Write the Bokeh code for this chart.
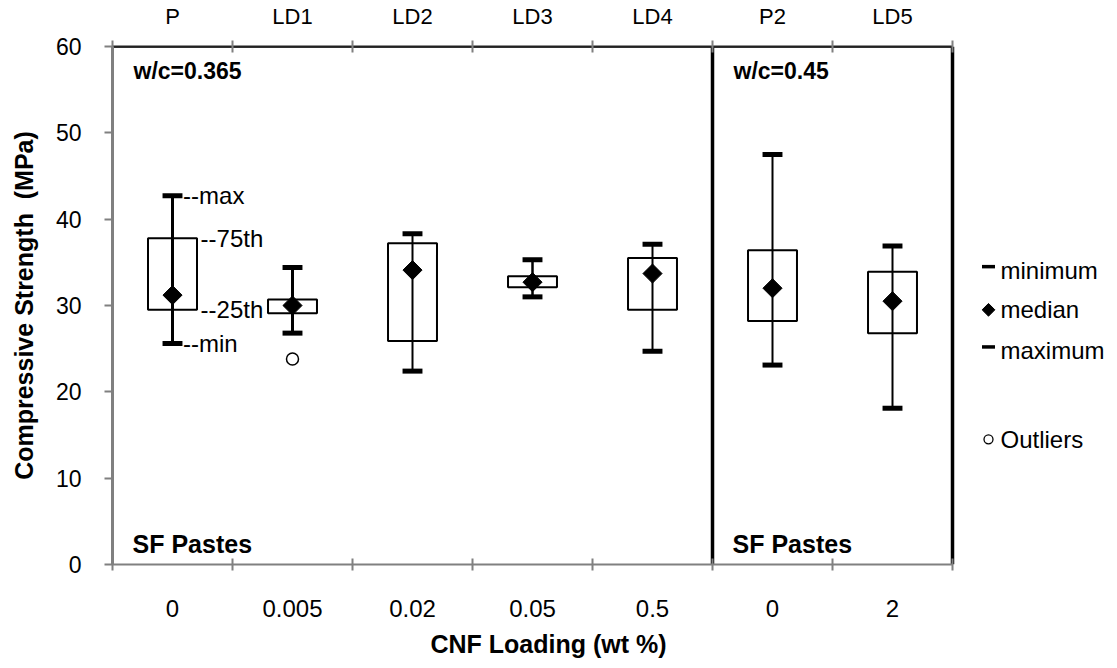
import numpy as np
from bokeh.plotting import figure
from bokeh.models import Range1d, FixedTicker, LinearAxis, ColumnDataSource, Title
from bokeh.embed import file_html
from bokeh.resources import INLINE
from bokeh.core.properties import value

# ---- data ----
samples = ["P", "LD1", "LD2", "LD3", "LD4", "P2", "LD5"]
loadings = ["0", "0.005", "0.02", "0.05", "0.5", "0", "2"]
minimum = [25.6, 26.8, 22.4, 31.0, 24.7, 23.1, 18.1]
q25 = [29.5, 29.1, 25.9, 32.1, 29.5, 28.2, 26.8]
median = [31.2, 30.0, 34.1, 32.7, 33.7, 32.0, 30.5]
q75 = [37.8, 30.7, 37.2, 33.4, 35.5, 36.4, 33.9]
maximum = [42.7, 34.4, 38.3, 35.3, 37.1, 47.5, 36.9]
outlier_sample = ["LD1"]
outlier_value = [23.8]
y_ticks = [0, 10, 20, 30, 40, 50, 60]
group_labels = ["w/c=0.365", "w/c=0.45"]
group_start = ["P", "P2"]
legend_labels = ["minimum", "median", "maximum", "Outliers"]

# ---- styles ----
FONT = "Liberation Sans"
whisker_widths = [3, 3, 2, 2.5, 2, 2, 2]
BOX_HALF = 0.204
CAP_HALF = 0.083

xs = list(range(len(samples)))
lo_b, hi_b = -0.5, len(samples) - 0.5

p = figure(width=1117, height=668, x_range=Range1d(-0.5, 7.875), y_range=Range1d(0, 60),
           x_axis_type=None, y_axis_type=None, output_backend="svg", toolbar_location=None,
           min_border_left=112, min_border_right=0, min_border_top=43, min_border_bottom=104)
p.outline_line_color = None
p.background_fill_color = "white"
p.border_fill_color = "white"

bounds_ticks = [i - 0.5 for i in range(len(samples) + 1)]

def cat_axis(labels, size):
    ax = LinearAxis(ticker=FixedTicker(ticks=xs, minor_ticks=bounds_ticks),
                    major_label_overrides={i: lab for i, lab in zip(xs, labels)},
                    bounds=(lo_b, hi_b))
    ax.axis_line_color = "#808080"
    ax.axis_line_width = 2
    ax.major_tick_line_color = None
    ax.major_tick_in = 0
    ax.major_tick_out = 0
    ax.minor_tick_line_color = "#808080"
    ax.minor_tick_line_width = 2
    ax.minor_tick_in = 6
    ax.minor_tick_out = 6
    ax.major_label_text_font = FONT
    ax.major_label_text_font_size = size
    ax.major_label_text_color = "black"
    return ax

xb = cat_axis(loadings, "24px")
xb.major_label_standoff = 29
p.add_layout(xb, "below")

xtitle = Title(text="CNF Loading (wt %)", align="left", offset=318, text_font=FONT,
               text_font_size="25px", text_font_style="bold", text_color="black", standoff=17)
p.add_layout(xtitle, "below")

xt = cat_axis(samples, "22px")
xt.major_label_standoff = 12
xt.axis_line_color = "#222222"
p.add_layout(xt, "above")

yl = LinearAxis(ticker=FixedTicker(ticks=y_ticks))
yl.axis_line_color = "#808080"
yl.axis_line_width = 3
yl.major_tick_line_color = "#808080"
yl.major_tick_line_width = 2
yl.major_tick_in = 0
yl.major_tick_out = 8
yl.minor_tick_line_color = None
yl.major_label_text_font = FONT
yl.major_label_text_font_size = "23px"
yl.major_label_text_color = "black"
yl.major_label_standoff = 23
yl.axis_label = "Compressive Strength\u00a0 (MPa)"
yl.axis_label_text_font = FONT
yl.axis_label_text_font_style = "bold"
yl.axis_label_text_font_size = "25px"
yl.axis_label_text_color = "black"
yl.axis_label_standoff = 15
p.add_layout(yl, "left")

# frame borders
p.segment(x0=[lo_b, hi_b, 4.5, lo_b], y0=[60, 0, 0, 0], x1=[hi_b, hi_b, 4.5, lo_b], y1=[60, 60, 60, 60],
          line_color="black", line_width=[2.5, 3.5, 3.5, 2])

src = ColumnDataSource(dict(x=xs, mn=minimum, q1=q25, md=median, q3=q75, mx=maximum,
                            ww=whisker_widths))
xs_arr = np.array(xs, dtype=float)

# boxes
p.quad(left=xs_arr - BOX_HALF, right=xs_arr + BOX_HALF, bottom=q25, top=q75,
       fill_color="white", line_color="black", line_width=2)
# whiskers
p.segment(x0="x", y0="mn", x1="x", y1="mx", source=src, line_color="black", line_width="ww")
# caps
p.segment(x0=list(xs_arr - CAP_HALF) * 2, x1=list(xs_arr + CAP_HALF) * 2, y0=minimum + maximum,
          y1=minimum + maximum, line_color="black", line_width=5)
# medians
p.scatter(x=xs, y=median, marker="square", angle=np.pi / 4, size=13.5,
          fill_color="black", line_color="black")
# outliers
ox = [samples.index(s) for s in outlier_sample]
p.scatter(x=ox, y=outlier_value, marker="circle", size=12, fill_color="white",
          line_color="black", line_width=1.5)

# annotations on P
ann_x = [CAP_HALF + 0.005, BOX_HALF + 0.03, BOX_HALF + 0.03, CAP_HALF + 0.005]
ann_y = [maximum[0], q75[0], q25[0], minimum[0]]
p.text(x=ann_x, y=ann_y, text=["--max", "--75th", "--25th", "--min"],
       text_font=value(FONT), text_font_size="24px", text_align="left",
       text_baseline="middle", text_color="black")

# group labels
gx = [samples.index(s) - 0.5 + 0.175 for s in group_start]
p.text(x=gx, y=[57.2, 57.2], text=group_labels, text_font=value(FONT), text_font_size="23px",
       text_font_style="bold", text_align="left", text_baseline="middle", text_color="black")
p.text(x=[g - 0.008 for g in gx], y=[2.4, 2.4], text=["SF Pastes", "SF Pastes"], text_font=value(FONT),
       text_font_size="25px", text_font_style="bold", text_align="left", text_baseline="middle",
       text_color="black")

# legend (drawn by hand to the right of the panels)
LX = 6.8
LY = [34.1, 29.5, 24.8, 14.5]
p.segment(x0=[LX - 0.054] * 2, x1=[LX + 0.054] * 2, y0=[LY[0] + 0.4, LY[2] + 0.4],
          y1=[LY[0] + 0.4, LY[2] + 0.4], line_color="black", line_width=3.5)
p.scatter(x=[LX], y=[LY[1]], marker="square", angle=np.pi / 4, size=9,
          fill_color="black", line_color="black")
p.scatter(x=[LX], y=[LY[3]], marker="circle", size=9, fill_color="white",
          line_color="black", line_width=1.3)
p.text(x=[LX + 0.1] * 4, y=LY, text=legend_labels, text_font=value(FONT), text_font_size="24px",
       text_align="left", text_baseline="middle", text_color="black")

open("out.html", "w").write(file_html(p, INLINE))
